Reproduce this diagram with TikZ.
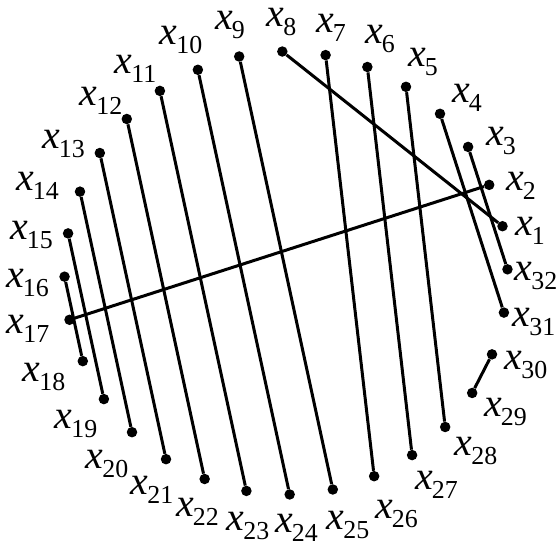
\documentclass[tikz,border=0pt]{standalone}
\usepackage{fontspec}
\setmainfont{Liberation Serif}
\newcommand{\xlab}[1]{\fontsize{40}{40}\selectfont\textit{x}\kern-1bp\raisebox{-9bp}{\fontsize{26}{26}\selectfont #1}}
\begin{document}
\begin{tikzpicture}[x=1bp,y=1bp,
  dot/.style={circle,fill=black,inner sep=0,minimum size=10.5bp},
  chord/.style={line width=3bp},
  lab/.style={inner sep=0}]
\useasboundingbox (0,0) rectangle (558,545);
\foreach \k in {1,...,32}
  \node[dot] (p\k) at ({286+221.5*cos(12.2+(\k-1)*11.25)},{272+221.5*sin(12.2+(\k-1)*11.25)}) {};
\draw[chord] (p8) -- (p1);
\draw[chord] (p2) -- (p17);
\draw[chord] (p3) -- (p32);
\draw[chord] (p4) -- (p31);
\draw[chord] (p5) -- (p28);
\draw[chord] (p6) -- (p27);
\draw[chord] (p7) -- (p26);
\draw[chord] (p9) -- (p25);
\draw[chord] (p10) -- (p24);
\draw[chord] (p11) -- (p23);
\draw[chord] (p12) -- (p22);
\draw[chord] (p13) -- (p21);
\draw[chord] (p14) -- (p20);
\draw[chord] (p15) -- (p19);
\draw[chord] (p16) -- (p18);
\draw[chord] (p29) -- (p30);
\foreach \k/\a/\b in {1/530/314, 2/521/359, 3/501/404, 4/467/447, 5/423/483.5,
  6/380/506, 7/331/517.5, 8/281.5/523, 9/230/520, 10/181/505, 11/135.5/476.5,
  12/101/444.5, 13/63.5/401.5, 14/37.5/359.5, 15/31.5/310.5, 16/27.5/262.5,
  17/28/216, 18/44/168.5, 19/76/121.5, 20/107/81, 21/152/55, 22/197.5/33,
  23/248/19.5, 24/296.5/17, 25/348/20.5, 26/396.5/31, 27/436.5/60, 28/476/94,
  29/505.5/133, 30/526/180, 31/534/223, 32/536/269}
  \node[lab] (l\k) at (\a,\b) {\xlab{\k}};
\end{tikzpicture}
\end{document}
